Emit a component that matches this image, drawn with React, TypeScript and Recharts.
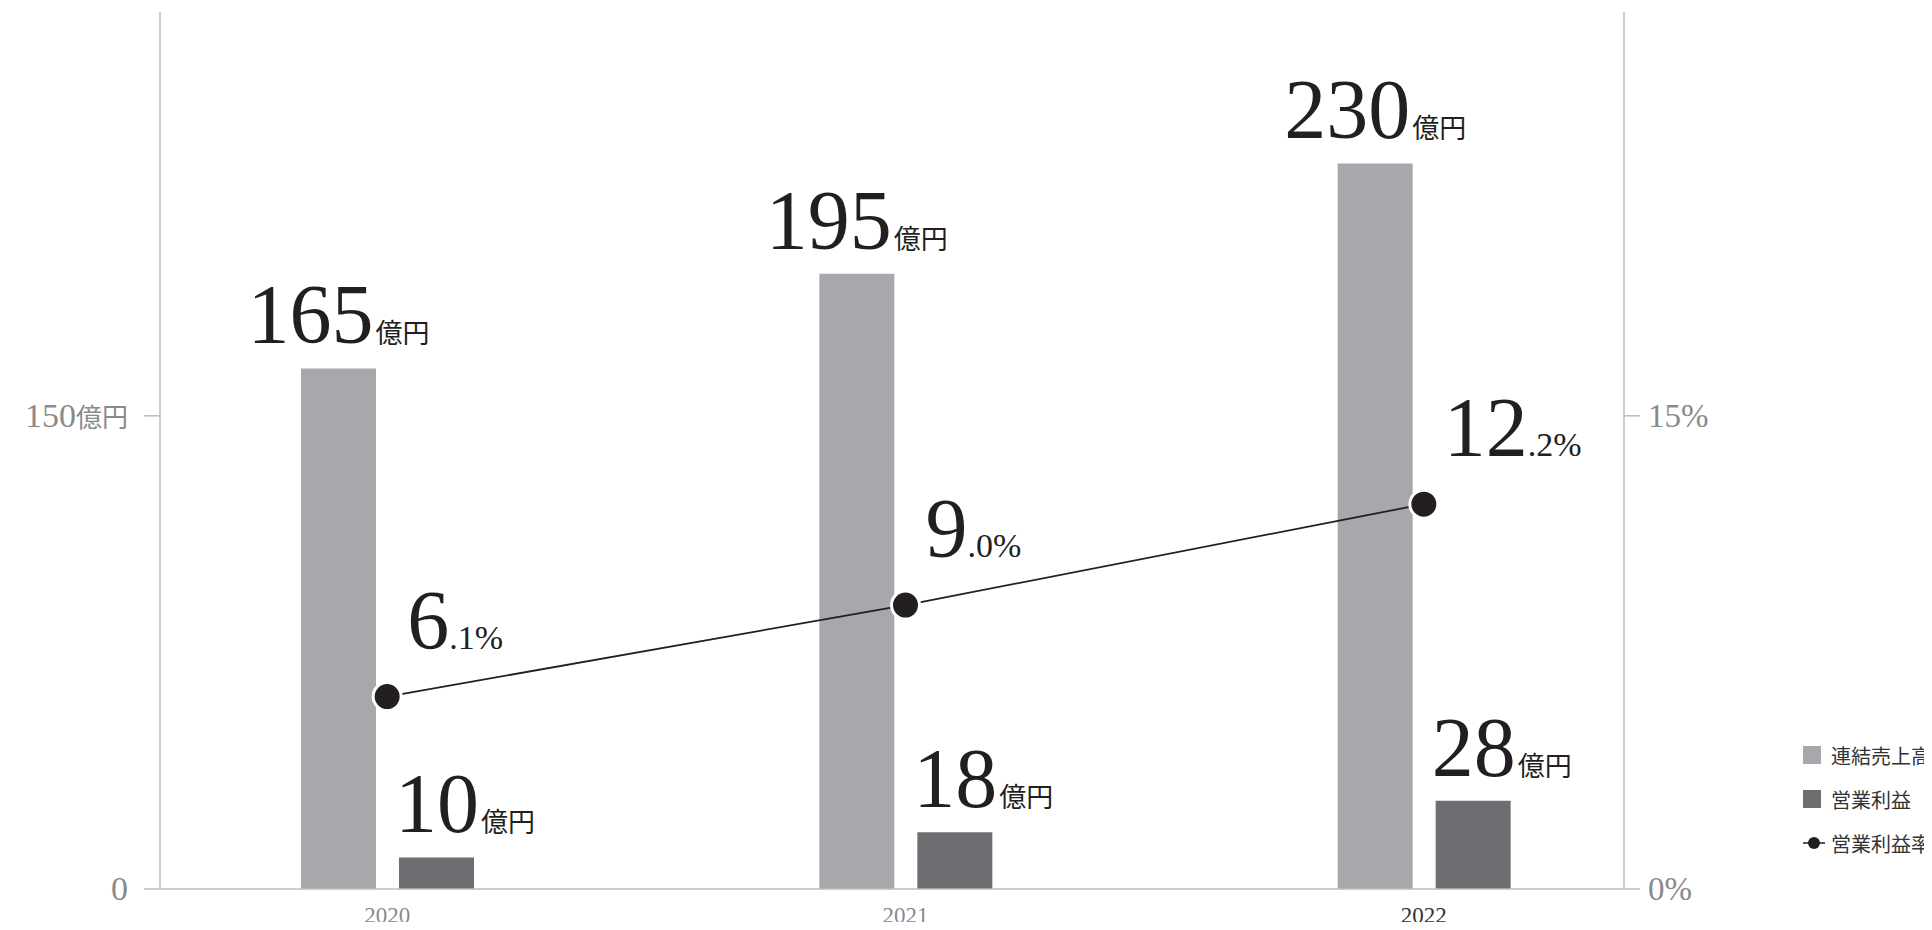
import { ComposedChart, Bar, Line, XAxis, YAxis, LabelList } from 'recharts'

// values
const years = ['2020', '2021', '2022']
const sales = [165, 195, 230] // 連結売上高 (億円)
const profit = [10, 18, 28] // 営業利益 (億円)
const margin = [6.1, 9.0, 12.2] // 営業利益率 (%)

const leftTicks = [0, 150]
const rightTicks = [0, 15]

const data = years.map((year, i) => ({
  year,
  sales: sales[i],
  profit: profit[i],
  margin: margin[i],
}))

const SERIF = '"Liberation Serif", "DejaVu Serif", serif'
const SANS = '"Noto Sans CJK JP", "Noto Sans", sans-serif'
const INK = '#231f20'
const LIGHT = '#a7a8ab'
const DARK = '#6d6e71'
const AXIS = '#bcbcbe'
const TICK = '#8a8a8d'

const YenLabel = (anchor: 'middle' | 'start') => (props: any) => {
  const { x, y, width, value } = props
  const tx = anchor === 'middle' ? x + width / 2 : x - 4
  return (
    <text x={tx} y={y - 25} textAnchor={anchor} fill={INK}>
      <tspan fontFamily={SERIF} fontSize={84}>{value}</tspan>
      <tspan fontFamily={SANS} fontSize={27} dx={2}>億円</tspan>
    </text>
  )
}

const PctLabel = (props: any) => {
  const { x, y, value } = props
  const [whole, frac] = Number(value).toFixed(1).split('.')
  return (
    <text x={x + 20} y={y - 48} fill={INK} fontFamily={SERIF}>
      <tspan fontSize={84}>{whole}</tspan>
      <tspan fontSize={34}>.{frac}%</tspan>
    </text>
  )
}

const LeftTick = ({ x, y, payload }: any) => (
  <text x={x - 14} y={y + 11} textAnchor="end" fill={TICK}>
    <tspan fontFamily={SERIF} fontSize={34}>{payload.value}</tspan>
    {payload.value !== 0 && <tspan fontFamily={SANS} fontSize={26}>億円</tspan>}
  </text>
)

const RightTick = ({ x, y, payload }: any) => (
  <text x={x + 6} y={y + 11} textAnchor="start" fill={TICK} fontFamily={SERIF} fontSize={33}>
    {payload.value}%
  </text>
)

const YearTick = ({ x, y, payload, index }: any) => (
  <text x={x} y={y + 26} textAnchor="middle" fill={index === years.length - 1 ? '#333' : TICK} fontFamily={SERIF} fontSize={23}>
    {payload.value}
  </text>
)

const rowStyle = { display: 'flex', alignItems: 'center', whiteSpace: 'nowrap' as const, height: 44 }

const LegendBox = () => (
  <div style={{ position: 'absolute', left: 1803, top: 733, fontFamily: SANS, fontSize: 20, color: '#333' }}>
    <div style={rowStyle}>
      <span style={{ width: 18, height: 18, background: LIGHT, marginRight: 10, flexShrink: 0 }} />
      連結売上高
    </div>
    <div style={rowStyle}>
      <span style={{ width: 18, height: 18, background: DARK, marginRight: 10, flexShrink: 0 }} />
      営業利益
    </div>
    <div style={rowStyle}>
      <svg width={22} height={14} style={{ marginRight: 6, flexShrink: 0 }}>
        <line x1={0} y1={7} x2={22} y2={7} stroke={INK} strokeWidth={1.5} />
        <circle cx={11} cy={7} r={6} fill={INK} />
      </svg>
      営業利益率
    </div>
  </div>
)

export default function App() {
  return (
    <div style={{ position: 'relative', margin: -8, width: 1932, height: 930, background: '#fff', overflow: 'hidden' }}>
      <ComposedChart
        width={1932}
        height={930}
        data={data}
        margin={{ top: 12, right: 0, bottom: 0, left: 0 }}
        barSize={75}
        barGap={23}
      >
        <XAxis
          dataKey="year"
          height={41}
          padding={{ left: -32, right: -59 }}
          tick={<YearTick />}
          tickLine={false}
          axisLine={{ stroke: AXIS, strokeWidth: 1.5 }}
        />
        <YAxis
          yAxisId="left"
          width={160}
          domain={[0, 278]}
          ticks={leftTicks}
          tick={<LeftTick />}
          tickSize={16}
          tickLine={{ stroke: AXIS, strokeWidth: 1.5 }}
          axisLine={{ stroke: AXIS, strokeWidth: 1.5 }}
        />
        <YAxis
          yAxisId="right"
          orientation="right"
          width={308}
          domain={[0, 27.8]}
          ticks={rightTicks}
          tick={<RightTick />}
          tickSize={16}
          tickLine={{ stroke: AXIS, strokeWidth: 1.5 }}
          axisLine={{ stroke: AXIS, strokeWidth: 1.5 }}
        />
        <Bar yAxisId="left" dataKey="sales" name="連結売上高" fill={LIGHT} isAnimationActive={false}>
          <LabelList dataKey="sales" content={YenLabel('middle')} />
        </Bar>
        <Bar yAxisId="left" dataKey="profit" name="営業利益" fill={DARK} isAnimationActive={false}>
          <LabelList dataKey="profit" content={YenLabel('start')} />
        </Bar>
        <Line
          yAxisId="right"
          dataKey="margin"
          name="営業利益率"
          type="linear"
          stroke={INK}
          strokeWidth={1.8}
          dot={{ r: 14, fill: INK, stroke: '#fff', strokeWidth: 3 }}
          isAnimationActive={false}
        >
          <LabelList dataKey="margin" content={PctLabel} />
        </Line>
      </ComposedChart>
      <LegendBox />
    </div>
  )
}
